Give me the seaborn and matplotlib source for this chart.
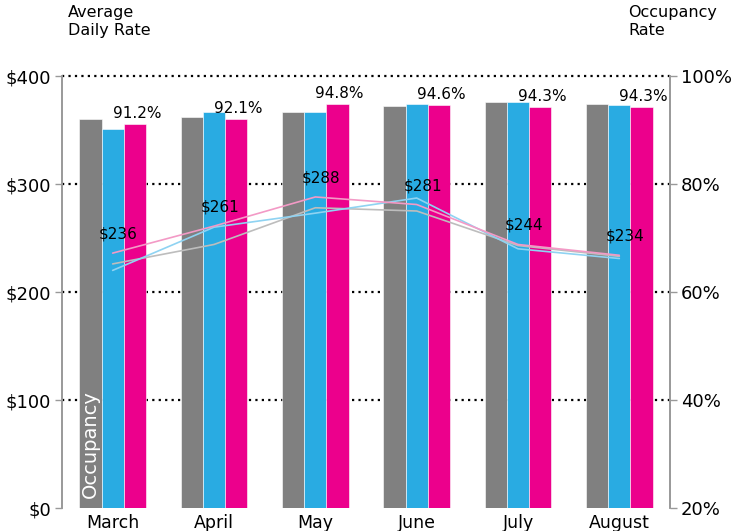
import numpy as np
import pandas as pd
import matplotlib
matplotlib.use("Agg")
import matplotlib.pyplot as plt
import seaborn as sns

months = ["March", "April", "May", "June", "July", "August"]
series = ["gray", "blue", "pink"]

# occupancy rate (%), right axis
occ_gray = [92.0, 92.4, 93.3, 94.5, 95.1, 94.8]
occ_blue = [90.2, 93.3, 93.3, 94.8, 95.1, 94.6]
occ_pink = [91.2, 92.1, 94.8, 94.6, 94.3, 94.3]

# average daily rate ($), left axis
adr_gray = [226, 244, 278, 275, 243, 233]
adr_blue = [220, 260, 273, 287, 240, 231]
adr_pink = [236, 261, 288, 281, 244, 234]

bar_colors = ["#808080", "#29abe2", "#ec008c"]
line_colors = ["#bdbdbd", "#8fd3f2", "#f39ac6"]

occ = pd.DataFrame({
    "month": np.repeat(months, 3),
    "series": series * len(months),
    "occ": [v for trio in zip(occ_gray, occ_blue, occ_pink) for v in trio],
})
adr = pd.DataFrame({
    "month": months * 3,
    "series": np.repeat(series, len(months)),
    "adr": adr_gray + adr_blue + adr_pink,
})
adr["pos"] = adr["month"].map({m: i for i, m in enumerate(months)})

sns.set_style("white")
plt.rcParams["font.family"] = ["DejaVu Sans"]
plt.rcParams["text.color"] = "black"

fig = plt.figure(figsize=(7.44, 5.31), dpi=100)
ax = fig.add_axes([62 / 744, 1 - 508 / 531, 608 / 744, 432 / 531])

# dotted gridlines under the bars
for v in [40, 60, 80, 100]:
    ax.axhline(v, color="black", ls=(0, (1, 1.9)), lw=1.6, zorder=0, clip_on=False)

sns.barplot(data=occ, x="month", y="occ", hue="series", palette=bar_colors,
            width=0.66, saturation=1, legend=False, ax=ax,
            edgecolor="white", linewidth=0.4, zorder=2)
ax.set_ylim(20, 100)
ax.set_xlim(-0.5, 5.5)
ax.set_xticks(range(len(months)), months)
ax.set_xticks(np.arange(-0.5, 6, 1), minor=True)
ax.tick_params(axis="x", which="major", length=0, labelsize=12.5, pad=4,
               labelcolor="black")
ax.tick_params(axis="x", which="minor", length=5, color="#999999", width=1)
ax.set_xlabel("")
ax.set_ylabel("")

for i, v in enumerate(occ_pink):
    ax.annotate(f"{v:.1f}%", (i + 0.22, v), xytext=(2, 3), textcoords="offset pixels",
                ha="center", va="bottom", fontsize=11, color="black")

ax.text(-0.22, 21.9, "Occupancy", rotation=90, color="white", fontsize=14,
        ha="center", va="bottom", zorder=3)

ax2 = ax.twinx()
sns.lineplot(data=adr, x="pos", y="adr", hue="series", palette=line_colors,
             hue_order=series, legend=False, lw=1.2, sort=False, ax=ax2)
ax2.set_ylim(0, 400)
ax2.yaxis.tick_left()
ax2.yaxis.set_label_position("left")
ax2.set_yticks([0, 100, 200, 300, 400], ["$0", "$100", "$200", "$300", "$400"])
ax2.tick_params(axis="y", length=5, color="#999999", width=1, labelsize=13, pad=3,
                labelcolor="black")
ax2.set_xlabel("")
ax2.set_ylabel("")

# twinx moves the original ticks to the left, so put them back on the right
ax.yaxis.tick_right()
ax.set_yticks([20, 40, 60, 80, 100], ["20%", "40%", "60%", "80%", "100%"])
ax.tick_params(axis="y", length=5, color="#999999", width=1, labelsize=13, pad=3,
               labelcolor="black")

for i, v in enumerate(adr_pink):
    ax2.annotate(f"${v}", (i, v), xytext=(6, 19), textcoords="offset pixels",
                 ha="center", va="center", fontsize=11, color="black")

for a in (ax, ax2):
    for s in ["top", "bottom"]:
        a.spines[s].set_visible(False)
    for s in ["left", "right"]:
        a.spines[s].set_color("#999999")
        a.spines[s].set_linewidth(1.2)

fig.text(68 / 744, 1 - 5 / 531, "Average\nDaily Rate", ha="left", va="top",
         fontsize=11.5, linespacing=1.25)
fig.text(628 / 744, 1 - 5 / 531, "Occupancy\nRate", ha="left", va="top",
         fontsize=11.5, linespacing=1.25)

fig.savefig("out.png", dpi=100)
